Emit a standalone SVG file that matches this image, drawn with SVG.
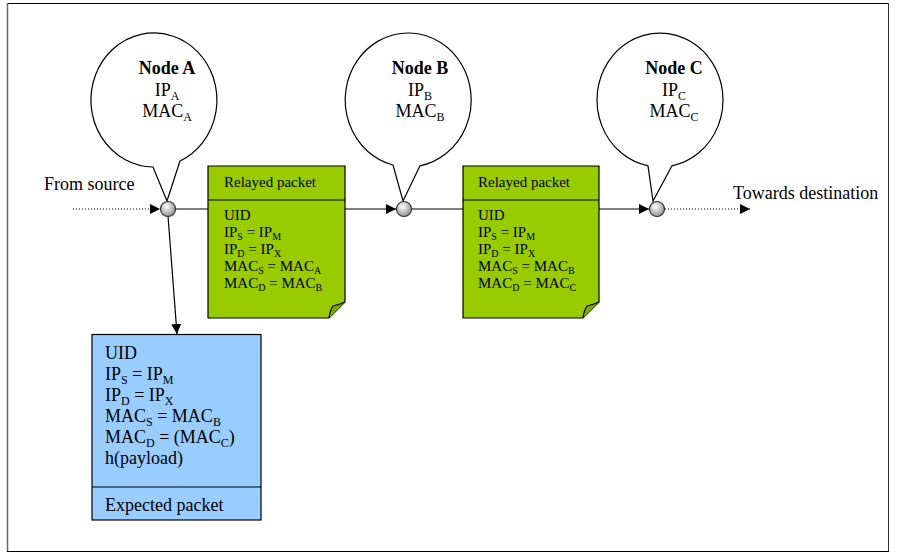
<svg xmlns="http://www.w3.org/2000/svg" width="897" height="553" viewBox="0 0 897 553">
<style>
text{font-family:"Liberation Serif","Times New Roman",serif;fill:#000}
.t18{font-size:18px}
.t15{font-size:15px}
.b{font-weight:bold}
.sub18{font-size:12px}
.sub15{font-size:10px}
.bubble{fill:#fff;stroke:#000;stroke-width:1.2}
.green{fill:#99CC00;stroke:#000;stroke-width:1.2}
.blue{fill:#99CCFF;stroke:#000;stroke-width:1.2}
.line{stroke:#000;stroke-width:1.2;fill:none}
.dot{stroke:#000;stroke-width:1.2;fill:none;stroke-dasharray:1 2}
.hub{fill:url(#g);stroke:#333;stroke-width:1.2}
</style>
<defs>
<radialGradient id="g" cx="0.4" cy="0.35" r="0.7">
<stop offset="0" stop-color="#ffffff"/>
<stop offset="1" stop-color="#8a8a8a"/>
</radialGradient>
<marker id="arr" viewBox="0 0 10 10" refX="10" refY="5" markerWidth="10" markerHeight="10" markerUnits="userSpaceOnUse" orient="auto">
<path d="M0,0 L10,5 L0,10 Z" fill="#000"/>
</marker>
</defs>
<g id="frame">
<line x1="7" y1="3.5" x2="889" y2="3.5" stroke="#000" stroke-width="1.2"/>
<line x1="7.5" y1="3" x2="7.5" y2="552" stroke="#666" stroke-width="1.5"/>
<line x1="888.5" y1="3" x2="888.5" y2="552" stroke="#333" stroke-width="1"/>
<line x1="7" y1="551.5" x2="889" y2="551.5" stroke="#000" stroke-width="1.2"/>
</g>
<g id="connectors">
<line class="dot" x1="73" y1="209" x2="160" y2="209" marker-end="url(#arr)"/>
<line class="line" x1="175" y1="209" x2="396" y2="209" marker-end="url(#arr)"/>
<line class="line" x1="411" y1="209" x2="649" y2="209" marker-end="url(#arr)"/>
<line class="dot" x1="665" y1="209" x2="750" y2="209" marker-end="url(#arr)"/>
<line class="line" x1="168" y1="216" x2="177" y2="334" marker-end="url(#arr)"/>
</g>
<g id="nodeA">
<path class="bubble" d="M180,161 A63 67 0 1 0 153,167 L167,201 Z"/>
<text class="t18 b" x="167" y="74" text-anchor="middle">Node A</text>
<text class="t18" x="167" y="96" text-anchor="middle">IP<tspan class="sub18" dy="4">A</tspan></text>
<text class="t18" x="167" y="117" text-anchor="middle">MAC<tspan class="sub18" dy="4">A</tspan></text>
<circle class="hub" cx="168" cy="209" r="7.5"/>
</g>
<g id="nodeB">
<path class="bubble" d="M420,165.8 A63 67 0 1 0 393,165 L403,201 Z"/>
<text class="t18 b" x="420" y="74" text-anchor="middle">Node B</text>
<text class="t18" x="420" y="96" text-anchor="middle">IP<tspan class="sub18" dy="4">B</tspan></text>
<text class="t18" x="420" y="117" text-anchor="middle">MAC<tspan class="sub18" dy="4">B</tspan></text>
<circle class="hub" cx="404" cy="209" r="7.5"/>
</g>
<g id="nodeC">
<path class="bubble" d="M672,165.8 A63 67 0 1 0 648,165.8 L653,201 Z"/>
<text class="t18 b" x="674" y="74" text-anchor="middle">Node C</text>
<text class="t18" x="674" y="96" text-anchor="middle">IP<tspan class="sub18" dy="4">C</tspan></text>
<text class="t18" x="674" y="117" text-anchor="middle">MAC<tspan class="sub18" dy="4">C</tspan></text>
<circle class="hub" cx="657" cy="209" r="7.5"/>
</g>
<g id="packet1">
<path class="green" d="M208,166 H345 V302 L329,318 H208 Z"/>
<line class="line" x1="208" y1="200" x2="345" y2="200"/>
<path d="M329,318 Q330,310 333,306 Q338,305 345,302" fill="#7fa800" stroke="#000" stroke-width="1.2"/>
<text class="t15" x="224" y="187">Relayed packet</text>
<text class="t15" x="224" y="220">UID</text>
<text class="t15" x="224" y="237">IP<tspan class="sub15" dy="3">S</tspan><tspan dy="-3"> = IP</tspan><tspan class="sub15" dy="3">M</tspan></text>
<text class="t15" x="224" y="254">IP<tspan class="sub15" dy="3">D</tspan><tspan dy="-3"> = IP</tspan><tspan class="sub15" dy="3">X</tspan></text>
<text class="t15" x="224" y="271">MAC<tspan class="sub15" dy="3">S</tspan><tspan dy="-3"> = MAC</tspan><tspan class="sub15" dy="3">A</tspan></text>
<text class="t15" x="224" y="288">MAC<tspan class="sub15" dy="3">D</tspan><tspan dy="-3"> = MAC</tspan><tspan class="sub15" dy="3">B</tspan></text>
</g>
<g id="packet2">
<path class="green" d="M463,166 H599 V302 L583,318 H463 Z"/>
<line class="line" x1="463" y1="200" x2="599" y2="200"/>
<path d="M583,318 Q584,310 587,306 Q592,305 599,302" fill="#7fa800" stroke="#000" stroke-width="1.2"/>
<text class="t15" x="478" y="187">Relayed packet</text>
<text class="t15" x="478" y="220">UID</text>
<text class="t15" x="478" y="237">IP<tspan class="sub15" dy="3">S</tspan><tspan dy="-3"> = IP</tspan><tspan class="sub15" dy="3">M</tspan></text>
<text class="t15" x="478" y="254">IP<tspan class="sub15" dy="3">D</tspan><tspan dy="-3"> = IP</tspan><tspan class="sub15" dy="3">X</tspan></text>
<text class="t15" x="478" y="271">MAC<tspan class="sub15" dy="3">S</tspan><tspan dy="-3"> = MAC</tspan><tspan class="sub15" dy="3">B</tspan></text>
<text class="t15" x="478" y="288">MAC<tspan class="sub15" dy="3">D</tspan><tspan dy="-3"> = MAC</tspan><tspan class="sub15" dy="3">C</tspan></text>
</g>
<g id="expected">
<rect class="blue" x="92" y="334.5" width="169" height="185.5"/>
<line class="line" x1="92" y1="487" x2="261" y2="487"/>
<text class="t18" x="105" y="359">UID</text>
<text class="t18" x="105" y="380">IP<tspan class="sub18" dy="4">S</tspan><tspan dy="-4"> = IP</tspan><tspan class="sub18" dy="4">M</tspan></text>
<text class="t18" x="105" y="401">IP<tspan class="sub18" dy="4">D</tspan><tspan dy="-4"> = IP</tspan><tspan class="sub18" dy="4">X</tspan></text>
<text class="t18" x="105" y="422">MAC<tspan class="sub18" dy="4">S</tspan><tspan dy="-4"> = MAC</tspan><tspan class="sub18" dy="4">B</tspan></text>
<text class="t18" x="105" y="443">MAC<tspan class="sub18" dy="4">D</tspan><tspan dy="-4"> = (MAC</tspan><tspan class="sub18" dy="4">C</tspan><tspan dy="-4">)</tspan></text>
<text class="t18" x="105" y="464">h(payload)</text>
<text class="t18" x="105" y="511">Expected packet</text>
</g>
<g id="labels">
<text class="t18" x="44" y="190">From source</text>
<text class="t18" x="733" y="199">Towards destination</text>
</g>
</svg>
